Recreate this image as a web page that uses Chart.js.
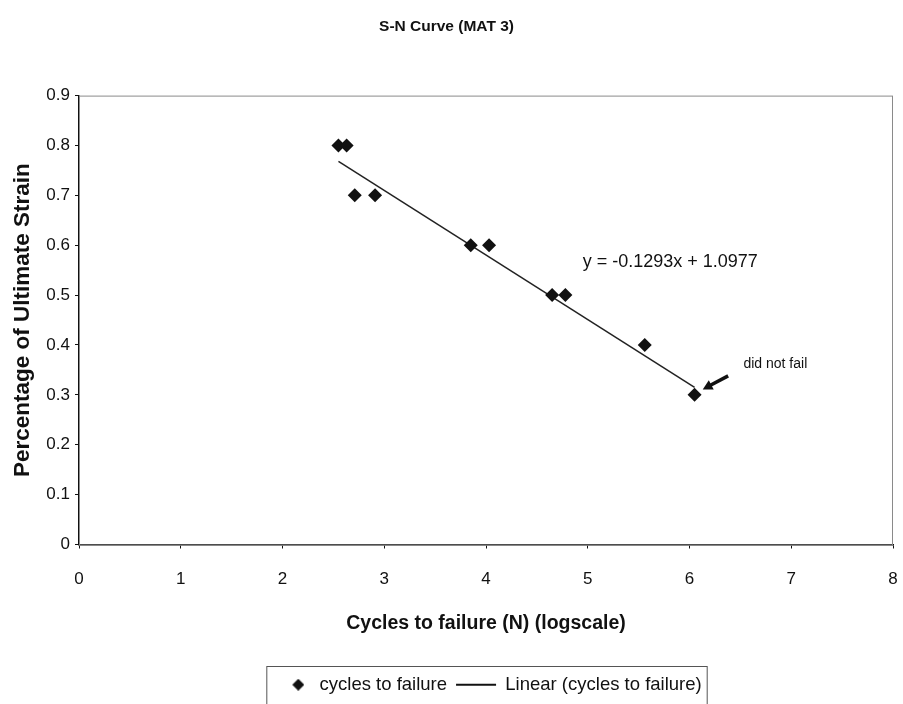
<!DOCTYPE html>
<html>
<head>
<meta charset="utf-8">
<script src="https://cdn.jsdelivr.net/npm/chart.js@4/dist/chart.umd.min.js"></script>
<style>
  html, body { margin: 0; padding: 0; background: #fff; }
  #chart { display: block; }
</style>
</head>
<body>
<canvas id="chart" width="903" height="704"></canvas>
<script>
// log10 of cycles to failure
const logCycles = [2.55, 2.63, 2.71, 2.91, 3.85, 4.03, 4.65, 4.78, 5.56, 6.05];
const strain = [0.8, 0.8, 0.7, 0.7, 0.6, 0.6, 0.5, 0.5, 0.4, 0.3];

// end points of the excel trendline as drawn
const trendX = [2.55, 6.05];
const trendY = [0.768, 0.315];

const xTicks = [0, 1, 2, 3, 4, 5, 6, 7, 8];
const yTicks = [0, 0.1, 0.2, 0.3, 0.4, 0.5, 0.6, 0.7, 0.8, 0.9];

const FONT = "'Liberation Sans', Arial, sans-serif";
const INK = "#111";

const toPoints = (xs, ys) => xs.map((x, i) => ({ x, y: ys[i] }));

// small diamond for the legend entry, pushed right towards its text
const legendDiamond = (() => {
  const c = document.createElement("canvas");
  c.width = 28;
  c.height = 12;
  const g = c.getContext("2d");
  g.fillStyle = INK;
  g.beginPath();
  g.moveTo(22, 0);
  g.lineTo(28, 6);
  g.lineTo(22, 12);
  g.lineTo(16, 6);
  g.closePath();
  g.fill();
  return c;
})();

const notes = {
  id: "notes",
  beforeDatasetsDraw(chart) {
    const { ctx, chartArea: a } = chart;
    ctx.save();
    ctx.strokeStyle = "#8a8a8a";
    ctx.lineWidth = 1;
    ctx.strokeRect(a.left + 0.5, a.top + 0.5, a.right - a.left - 1, a.bottom - a.top);
    ctx.restore();
  },
  afterDraw(chart) {
    const { ctx, scales: { x, y } } = chart;
    ctx.save();
    ctx.fillStyle = INK;
    ctx.textBaseline = "middle";
    ctx.textAlign = "left";
    ctx.font = `18px ${FONT}`;
    ctx.fillText("y = -0.1293x + 1.0977", x.getPixelForValue(4.95), y.getPixelForValue(0.567));
    ctx.font = `14px ${FONT}`;
    ctx.fillText("did not fail", x.getPixelForValue(6.53), y.getPixelForValue(0.361));

    // arrow pointing at the run-out point
    const x0 = x.getPixelForValue(6.38), y0 = y.getPixelForValue(0.338);
    const x1 = x.getPixelForValue(6.13), y1 = y.getPixelForValue(0.311);
    const ang = Math.atan2(y1 - y0, x1 - x0);
    ctx.strokeStyle = INK;
    ctx.lineWidth = 3.5;
    ctx.beginPath();
    ctx.moveTo(x0, y0);
    ctx.lineTo(x1 - 6 * Math.cos(ang), y1 - 6 * Math.sin(ang));
    ctx.stroke();
    ctx.beginPath();
    ctx.moveTo(x1, y1);
    ctx.lineTo(x1 - 11 * Math.cos(ang - 0.5), y1 - 11 * Math.sin(ang - 0.5));
    ctx.lineTo(x1 - 11 * Math.cos(ang + 0.5), y1 - 11 * Math.sin(ang + 0.5));
    ctx.closePath();
    ctx.fill();

    // frame round the legend
    const boxes = chart.legend.legendHitBoxes;
    if (boxes && boxes.length) {
      const first = boxes[0];
      const last = boxes[boxes.length - 1];
      ctx.strokeStyle = "#555";
      ctx.lineWidth = 1;
      ctx.strokeRect(first.left - 3.5, 666.5, last.left + last.width - first.left + 9, 60);
    }
    ctx.restore();
  },
};

new Chart(document.getElementById("chart"), {
  type: "scatter",
  data: {
    datasets: [
      {
        label: "cycles to failure",
        data: toPoints(logCycles, strain),
        pointStyle: "rectRot",
        pointRadius: 7,
        pointHoverRadius: 7,
        backgroundColor: INK,
        borderColor: INK,
        borderWidth: 0,
      },
      {
        type: "line",
        label: "Linear (cycles to failure)",
        data: toPoints(trendX, trendY),
        borderColor: "#222",
        backgroundColor: "#222",
        borderWidth: 1.5,
        pointRadius: 0,
        pointStyle: "line",
        fill: false,
      },
    ],
  },
  options: {
    responsive: false,
    devicePixelRatio: 1,
    animation: false,
    layout: { padding: { left: 0, right: 10, top: 0, bottom: 0 } },
    plugins: {
      title: {
        display: true,
        text: "S-N Curve (MAT 3)",
        color: INK,
        font: { family: FONT, size: 15.5, weight: "bold" },
        padding: { top: 17, bottom: 60 },
      },
      legend: {
        position: "bottom",
        fullSize: false,
        labels: {
          color: INK,
          font: { family: FONT, size: 18.5 },
          usePointStyle: true,
          pointStyleWidth: 40,
          padding: 9,
          generateLabels(chart) {
            const items = Chart.defaults.plugins.legend.labels.generateLabels(chart);
            items[0].pointStyle = legendDiamond;
            items[1].pointStyle = "line";
            items[1].strokeStyle = INK;
            items[1].lineWidth = 2;
            return items;
          },
        },
      },
      tooltip: { enabled: false },
    },
    scales: {
      x: {
        type: "linear",
        min: 0,
        max: 8,
        afterBuildTicks: (scale) => { scale.ticks = xTicks.map((value) => ({ value })); },
        afterFit: (scale) => {
          scale.height = 122;
          scale.paddingLeft = 0;
          scale.paddingRight = 0;
        },
        border: { color: INK, width: 1.5 },
        grid: { drawOnChartArea: false, drawTicks: true, tickLength: 4, color: INK },
        ticks: { color: INK, font: { family: FONT, size: 17 }, padding: 21 },
        title: {
          display: true,
          text: "Cycles to failure (N) (logscale)",
          color: INK,
          font: { family: FONT, size: 19.5, weight: "bold" },
          padding: { top: 4, bottom: 31 },
        },
      },
      y: {
        type: "linear",
        min: 0,
        max: 0.9,
        afterBuildTicks: (scale) => { scale.ticks = yTicks.map((value) => ({ value })); },
        afterFit: (scale) => { scale.width = 79; },
        border: { color: INK, width: 1.5 },
        grid: { drawOnChartArea: false, drawTicks: true, tickLength: 4, color: INK },
        ticks: {
          color: INK,
          font: { family: FONT, size: 17 },
          padding: 5,
          callback: (v) => String(Math.round(v * 10) / 10),
        },
        title: {
          display: true,
          text: "Percentage of Ultimate Strain",
          color: INK,
          font: { family: FONT, size: 22.5, weight: "bold" },
          padding: { top: 9, bottom: 4 },
        },
      },
    },
  },
  plugins: [notes],
});
</script>
</body>
</html>
